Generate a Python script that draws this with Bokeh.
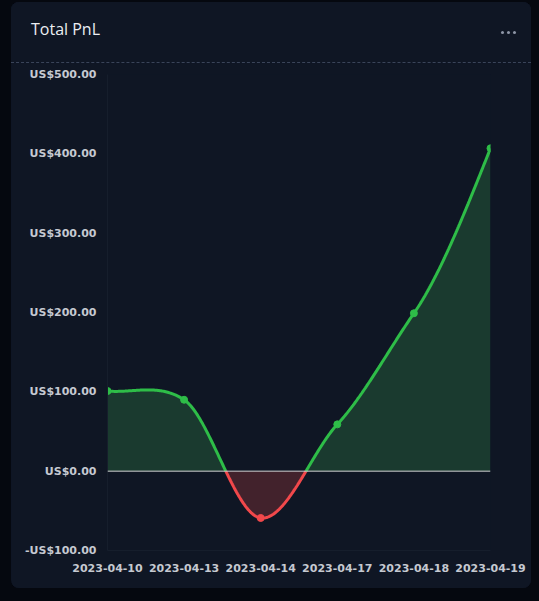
import numpy as np
from bokeh.plotting import figure
from bokeh.layouts import column
from bokeh.models import Range1d, Span, FixedTicker, Div
from bokeh.embed import file_html
from bokeh.resources import INLINE

# ---- data ----
dates = ["2023-04-10", "2023-04-13", "2023-04-14", "2023-04-17", "2023-04-18", "2023-04-19"]
pnl = [101, 90, -59, 59, 199, 407]
y_ticks = [-100, 0, 100, 200, 300, 400, 500]
y_tick_labels = ["-US$100.00", "US$0.00", "US$100.00", "US$200.00", "US$300.00", "US$400.00", "US$500.00"]
title_text = "Total PnL"

# ---- colours ----
OUTER = "#05080f"
CARD = "#0f1624"
GREEN = "#2ebd48"
GREEN_FILL = "#1a3a2f"
RED = "#f1484b"
RED_FILL = "#42222c"
LABEL = "#c5c9d1"

# ---- smooth curve (cardinal spline through the data points) ----
TENSION = 0.8
xi = np.arange(len(pnl), dtype=float)
v = np.array(pnl, dtype=float)
m = np.empty_like(v)
m[1:-1] = TENSION * (v[2:] - v[:-2]) / 2.0
m[0] = TENSION * (v[1] - v[0])
m[-1] = (3 * (v[-1] - v[-2]) - m[-2]) / 2.0
xs_d, ys_d = [], []
t = np.linspace(0, 1, 80)
h00 = 2 * t**3 - 3 * t**2 + 1
h10 = t**3 - 2 * t**2 + t
h01 = -2 * t**3 + 3 * t**2
h11 = t**3 - t**2
for i in range(len(v) - 1):
    seg = h00 * v[i] + h10 * m[i] + h01 * v[i + 1] + h11 * m[i + 1]
    xx = xi[i] + t
    if i > 0:
        seg, xx = seg[1:], xx[1:]
    xs_d.extend(xx)
    ys_d.extend(seg)

# insert zero crossings and split into signed segments
X, Y = [xs_d[0]], [ys_d[0]]
segs_x, segs_y, segs_c = [[xs_d[0]]], [[ys_d[0]]], [GREEN if ys_d[0] >= 0 else RED]
for k in range(1, len(xs_d)):
    x0, y0, x1, y1 = xs_d[k - 1], ys_d[k - 1], xs_d[k], ys_d[k]
    if (y0 >= 0) != (y1 >= 0):
        xc = x0 + (0 - y0) * (x1 - x0) / (y1 - y0)
        X.append(xc); Y.append(0.0)
        segs_x[-1].append(xc); segs_y[-1].append(0.0)
        segs_x.append([xc]); segs_y.append([0.0])
        segs_c.append(GREEN if y1 >= 0 else RED)
    X.append(x1); Y.append(y1)
    segs_x[-1].append(x1); segs_y[-1].append(y1)
X = np.array(X); Y = np.array(Y)

HEADER_H = 61
p = figure(width=520, height=586 - HEADER_H, output_backend="svg", toolbar_location=None,
           x_range=Range1d(0, len(dates) - 1), y_range=Range1d(-100, 500),
           min_border_left=96, min_border_right=41, min_border_top=11, min_border_bottom=38)
p.background_fill_color = CARD
p.border_fill_color = CARD
p.outline_line_color = None
p.grid.grid_line_color = None

# areas
p.varea(x=X, y1=0, y2=np.maximum(Y, 0), fill_color=GREEN_FILL)
p.varea(x=X, y1=0, y2=np.minimum(Y, 0), fill_color=RED_FILL)

p.add_layout(Span(location=0, dimension="width", line_color="#d4d2d4", line_width=1))

p.multi_line(xs=segs_x, ys=segs_y, line_color=segs_c, line_width=3)
p.scatter(x=xi, y=v, size=7, fill_color=[GREEN if q >= 0 else RED for q in pnl],
          line_color=[GREEN if q >= 0 else RED for q in pnl])

# axes
for ax in (p.xaxis[0], p.yaxis[0]):
    ax.axis_line_color = "#161e2c"
    ax.major_tick_line_color = None
    ax.minor_tick_line_color = None
    ax.major_tick_in = 0
    ax.major_tick_out = 0
    ax.major_label_text_font = "DejaVu Sans"
    ax.major_label_text_font_style = "bold"
    ax.major_label_text_font_size = "11px"
    ax.major_label_text_color = LABEL
    ax.major_label_standoff = 11
p.xaxis.major_label_standoff = 13
p.xaxis.ticker = FixedTicker(ticks=list(range(len(dates))))
p.xaxis.major_label_overrides = {i: d for i, d in enumerate(dates)}
p.yaxis.ticker = FixedTicker(ticks=y_ticks)
p.yaxis.major_label_overrides = {tk: lb for tk, lb in zip(y_ticks, y_tick_labels)}

# header
dot = ('<div style="position:absolute;top:29px;left:%dpx;width:3px;height:3px;'
       'border-radius:50%%;background:#8d95a6;"></div>')
header_html = (
    '<div style="position:relative;width:520px;height:%dpx;background:%s;">' % (HEADER_H, CARD)
    + '<div style="position:absolute;left:20px;top:17px;font-family:\'Open Sans\';font-size:16px;'
      'line-height:20px;color:#eceef2;white-space:nowrap;">%s</div>' % title_text
    + dot % 490 + dot % 496 + dot % 502
    + '<div style="position:absolute;left:0;top:%dpx;width:520px;height:0;'
      'border-top:1px dashed #3a4459;"></div>' % (HEADER_H - 1)
    + '</div>'
)
header = Div(text=header_html, width=520, height=HEADER_H,
             styles={"background-color": CARD, "margin": "0", "padding": "0"})

layout = column(header, p, spacing=0,
                styles={"border-radius": "8px", "overflow": "hidden", "background-color": CARD})

html = file_html(layout, INLINE)
css = ("<style>html,body{margin:0 !important;padding:0 !important;background:%s !important;}"
       "body{padding:2px 0 0 11px !important;}</style>" % OUTER)
html = html.replace("</head>", css + "</head>", 1)
with open("out.html", "w") as f:
    f.write(html)
